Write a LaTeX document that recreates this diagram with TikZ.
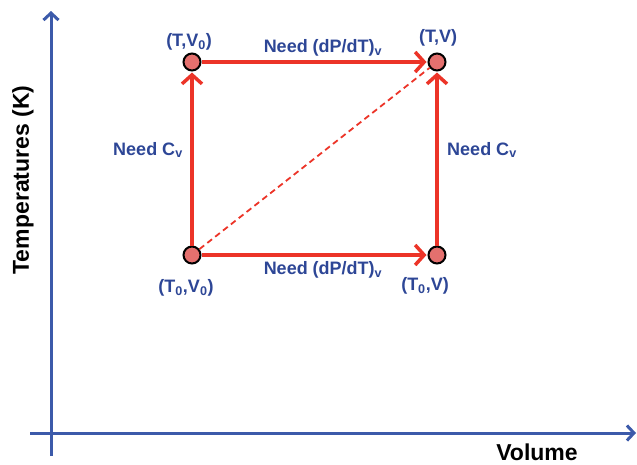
\documentclass[tikz,border=0pt]{standalone}
\usepackage{fontspec}
\setmainfont{Liberation Sans}
\usetikzlibrary{arrows.meta}
\definecolor{AxisBlue}{RGB}{60,90,170}
\definecolor{TextBlue}{RGB}{45,70,150}
\definecolor{PathRed}{RGB}{236,52,40}
\definecolor{StateFill}{RGB}{228,112,110}
\tikzset{
	axis/.style={AxisBlue, line width=3pt, -{Straight Barb[length=7pt,width=15pt]}},
	state/.style={circle, draw=black, line width=2pt, fill=StateFill, minimum size=17pt, inner sep=0pt},
	leg/.style={PathRed, line width=3.5pt, -{Straight Barb[length=9pt,width=20pt]}, shorten >=1pt},
	diag/.style={PathRed, line width=1.8pt, dash pattern=on 6pt off 4pt},
	statelabel/.style={TextBlue, font=\bfseries\fontsize{18}{20}\selectfont, inner sep=1pt},
	axislabel/.style={black, font=\bfseries\fontsize{23}{26}\selectfont}
}

\begin{document}
\begin{tikzpicture}[x=1pt,y=-1pt]
	\useasboundingbox (0,0) rectangle (637,464);
	
	% Axes
	\coordinate (ybot) at (51,456);
	\coordinate (ytop) at (51,11);
	\coordinate (xleft) at (30,433);
	\coordinate (xright) at (636,433);
	\draw[axis] (ybot) -- (ytop);
	\draw[axis] (xleft) -- (xright);
	\node[axislabel, rotate=90] (ylab) at (23,180) {Temperatures (K)};
	\node[axislabel] (xlab) at (537,452) {Volume};
	
	% States
	\node[state] (TV0) at (192,62) {};
	\node[state] (TV) at (437,62) {};
	\node[state] (T0V0) at (192,255) {};
	\node[state] (T0V) at (437,255) {};
	
	% State labels
	\node[statelabel] (lTV0) at (189,42) {(T,V\textsubscript{0})};
	\node[statelabel] (lTV) at (438,38) {(T,V)};
	\node[statelabel] (lT0V0) at (186,288) {(T\textsubscript{0},V\textsubscript{0})};
	\node[statelabel] (lT0V) at (425,286) {(T\textsubscript{0},V)};
	
	% Paths
	\draw[leg] (TV0) -- (TV);
	\draw[leg] (T0V0) -- (T0V);
	\draw[leg] (T0V0) -- (TV0);
	\draw[leg] (T0V) -- (TV);
	\draw[diag] (T0V0) -- (TV);
	
	% Path labels
	\node[statelabel] (ntop) at (323,48) {Need (dP/dT)\textsubscript{v}};
	\node[statelabel] (nbot) at (323,270) {Need (dP/dT)\textsubscript{v}};
	\node[statelabel] (nleft) at (148,150) {Need C\textsubscript{v}};
	\node[statelabel] (nright) at (482,150) {Need C\textsubscript{v}};
	
\end{tikzpicture}
\end{document}
